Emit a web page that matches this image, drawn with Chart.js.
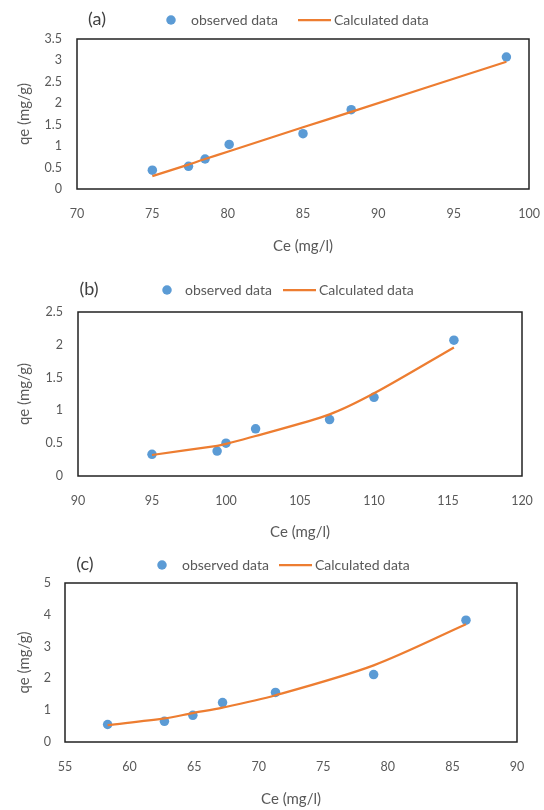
<!DOCTYPE html>
<html>
<head>
<meta charset="utf-8">
<script src="https://cdn.jsdelivr.net/npm/chart.js@4.4.1/dist/chart.umd.min.js"></script>
<style>
  html, body { margin: 0; padding: 0; background: #fff; }
  #wrap { position: relative; width: 544px; height: 810px; overflow: hidden; }
  #wrap canvas { position: absolute; left: 0; }
</style>
</head>
<body>
<div id="wrap">
  <canvas id="chartA" width="544" height="280" style="top:0px"></canvas>
  <canvas id="chartB" width="544" height="280" style="top:268px"></canvas>
  <canvas id="chartC" width="544" height="280" style="top:530px"></canvas>
</div>
<script>
// ---- values ----
// (a)
const ceA = [75.0, 77.4, 78.5, 80.1, 85.0, 88.2, 98.5];
const qeObsA = [0.44, 0.53, 0.70, 1.04, 1.29, 1.85, 3.08];
const qeCalcA = [0.30, 0.57, 0.70, 0.88, 1.44, 1.80, 2.97];
// (b)
const ceB = [95.0, 99.4, 100.0, 102.0, 107.0, 110.0, 115.4];
const qeObsB = [0.33, 0.38, 0.50, 0.72, 0.86, 1.20, 2.07];
const qeCalcB = [0.32, 0.46, 0.49, 0.61, 0.94, 1.26, 1.96];
// (c)
const ceC = [58.3, 62.7, 64.9, 67.2, 71.3, 78.9, 86.05];
const qeObsC = [0.55, 0.65, 0.84, 1.24, 1.56, 2.12, 3.83];
const qeCalcC = [0.53, 0.74, 0.91, 1.08, 1.47, 2.41, 3.70];

// axis ranges / tick steps
const xRangeA = [70, 100, 5], yRangeA = [0, 3.5, 0.5];
const xRangeB = [90, 120, 5], yRangeB = [0, 2.5, 0.5];
const xRangeC = [55, 90, 5], yRangeC = [0, 5, 1];

const legendLabels = ['observed data', 'Calculated data'];
const xTitle = 'Ce (mg/l)';
const yTitle = 'qe (mg/g)';

// ---- styling ----
const BLUE = '#5B9BD5';
const ORANGE = '#ED7D31';
const TEXT = '#595959';
const FONT = "Lato, 'Liberation Sans', sans-serif";
const W = 544, H = 280;

// plot border like the Excel plot area
const framePlugin = {
  id: 'frame',
  beforeDatasetsDraw(chart) {
    const { ctx, chartArea: a } = chart;
    ctx.save();
    ctx.strokeStyle = '#222';
    ctx.lineWidth = 1.5;
    ctx.strokeRect(a.left, a.top, a.right - a.left, a.bottom - a.top);
    ctx.restore();
  }
};

// panel letter + legend row
const headerPlugin = {
  id: 'header',
  afterDraw(chart, args, o) {
    const ctx = chart.ctx;
    ctx.save();
    ctx.textBaseline = 'middle';
    ctx.fillStyle = '#404040';
    ctx.font = '18px ' + FONT;
    ctx.textAlign = 'center';
    ctx.fillText(o.letter, o.letterX, o.y - 1);

    ctx.fillStyle = BLUE;
    ctx.beginPath();
    ctx.arc(o.circleX, o.y, 4.75, 0, Math.PI * 2);
    ctx.fill();

    ctx.fillStyle = TEXT;
    ctx.font = '14px ' + FONT;
    ctx.textAlign = 'left';
    ctx.fillText(legendLabels[0], o.obsX, o.y);

    ctx.strokeStyle = ORANGE;
    ctx.lineWidth = 2.25;
    ctx.beginPath();
    ctx.moveTo(o.lineX1, o.y);
    ctx.lineTo(o.lineX2, o.y);
    ctx.stroke();

    ctx.fillText(legendLabels[1], o.calcX, o.y);
    ctx.restore();
  }
};

function points(xs, ys) {
  return xs.map((x, i) => ({ x: x, y: ys[i] }));
}

const plainNum = v => String(Number(v.toFixed(2)));

function buildPanel(id, ce, obs, calc, xr, yr, box, header) {
  return new Chart(document.getElementById(id), {
    type: 'scatter',
    data: {
      datasets: [
        {
          label: legendLabels[1],
          data: points(ce, calc),
          showLine: true,
          borderColor: ORANGE,
          borderWidth: 2.25,
          pointRadius: 0,
          tension: 0.3,
          order: 0
        },
        {
          label: legendLabels[0],
          data: points(ce, obs),
          backgroundColor: BLUE,
          borderWidth: 0,
          pointRadius: 4.75,
          order: 1
        }
      ]
    },
    options: {
      responsive: false,
      animation: false,
      layout: { padding: { left: 0, top: box.top, right: W - box.right, bottom: 0 } },
      plugins: {
        legend: { display: false },
        tooltip: { enabled: false },
        header: header
      },
      scales: {
        x: {
          type: 'linear',
          min: xr[0], max: xr[1],
          ticks: { stepSize: xr[2], padding: 17, color: TEXT, font: { family: FONT, size: 12.5 }, maxRotation: 0, autoSkip: false, callback: plainNum },
          grid: { display: false, drawTicks: false },
          border: { display: false },
          title: {
            display: true, text: xTitle, color: TEXT,
            font: { family: FONT, size: 15 },
            padding: { top: 0, bottom: H - box.titleY - 9 }
          },
          afterFit(s) {
            s.height = H - box.bottom;
            // keep the tick padding from eating into the plot width
            s.paddingLeft = 0;
            s.paddingRight = 0;
          }
        },
        y: {
          type: 'linear',
          min: yr[0], max: yr[1],
          ticks: { stepSize: yr[2], padding: box.tickPad, color: TEXT, font: { family: FONT, size: 12.5 }, callback: plainNum },
          grid: { display: false, drawTicks: false },
          border: { display: false },
          title: {
            display: true, text: yTitle, color: TEXT,
            font: { family: FONT, size: 15 },
            padding: { top: 15, bottom: 0 }
          },
          afterFit(s) { s.width = box.left; }
        }
      }
    },
    plugins: [framePlugin, headerPlugin]
  });
}

buildPanel('chartA', ceA, qeObsA, qeCalcA, xRangeA, yRangeA,
  { left: 77, right: 529, top: 39, bottom: 189, titleY: 246, tickPad: 15 },
  { letter: '(a)', letterX: 97, y: 20, circleX: 171, obsX: 191, lineX1: 298, lineX2: 331, calcX: 334 });

buildPanel('chartB', ceB, qeObsB, qeCalcB, xRangeB, yRangeB,
  { left: 78, right: 522, top: 44, bottom: 208, titleY: 264, tickPad: 15 },
  { letter: '(b)', letterX: 89, y: 22, circleX: 167, obsX: 185, lineX1: 283, lineX2: 316, calcX: 319 });

buildPanel('chartC', ceC, qeObsC, qeCalcC, xRangeC, yRangeC,
  { left: 65, right: 517, top: 53, bottom: 212, titleY: 269, tickPad: 14 },
  { letter: '(c)', letterX: 85, y: 35, circleX: 162, obsX: 182, lineX1: 279, lineX2: 312, calcX: 315 });
</script>
</body>
</html>
